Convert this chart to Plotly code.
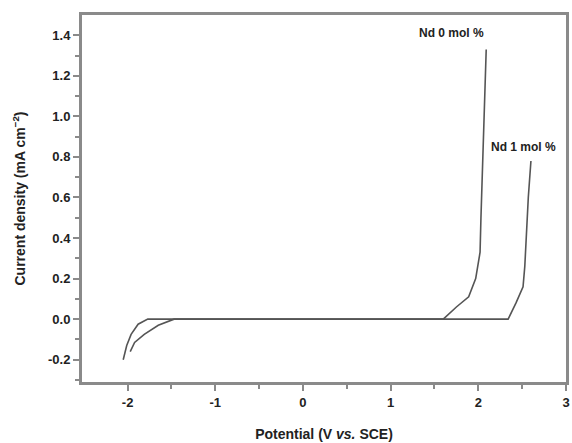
import plotly.graph_objects as go

# Nd 0 mol %
nd0_x = [-2.05, -2.01, -1.96, -1.88, -1.77, -1.5, 0.0, 1.0, 1.6, 1.75, 1.89, 1.97, 2.02, 2.03, 2.05, 2.06, 2.08, 2.09]
nd0_y = [-0.20, -0.13, -0.075, -0.025, 0.0, 0.0, 0.0, 0.0, 0.0, 0.06, 0.11, 0.20, 0.33, 0.50, 0.80, 1.00, 1.20, 1.33]
# Nd 1 mol %
nd1_x = [-1.97, -1.92, -1.81, -1.65, -1.47, 0.0, 1.0, 2.0, 2.34, 2.43, 2.51, 2.53, 2.55, 2.57, 2.60]
nd1_y = [-0.16, -0.115, -0.075, -0.03, 0.0, 0.0, 0.0, 0.0, 0.0, 0.08, 0.16, 0.26, 0.45, 0.60, 0.78]

x_ticks = [-2, -1, 0, 1, 2, 3]
x_ticklabels = ["-2", "-1", "0", "1", "2", "3"]
y_ticks = [-0.2, 0.0, 0.2, 0.4, 0.6, 0.8, 1.0, 1.2, 1.4]
y_ticklabels = ["-0.2", "0.0", "0.2", "0.4", "0.6", "0.8", "1.0", "1.2", "1.4"]

line_color = "#555555"
axis_color = "#8a8a8a"
font_fam = "Liberation Sans, Arial, sans-serif"

fig = go.Figure()
fig.add_trace(go.Scatter(x=nd0_x, y=nd0_y, mode="lines", name="Nd 0 mol %",
                         line=dict(color=line_color, width=1.6)))
fig.add_trace(go.Scatter(x=nd1_x, y=nd1_y, mode="lines", name="Nd 1 mol %",
                         line=dict(color=line_color, width=1.6)))

fig.add_annotation(x=1.69, y=1.41, text="<b>Nd 0 mol %</b>", showarrow=False,
                   font=dict(family=font_fam, size=12, color="#222"), bgcolor="white")
fig.add_annotation(x=2.51, y=0.85, text="<b>Nd 1 mol %</b>", showarrow=False,
                   font=dict(family=font_fam, size=12, color="#222"), bgcolor="white")

fig.update_layout(
    width=572, height=443,
    margin=dict(l=82, r=3, t=15, b=60),
    paper_bgcolor="white", plot_bgcolor="white",
    showlegend=False,
    font=dict(family=font_fam, color="#222"),
)
fig.update_xaxes(
    range=[-2.52, 3.0], tickvals=x_ticks, ticktext=x_ticklabels,
    showgrid=False, zeroline=False,
    showline=True, linecolor=axis_color, linewidth=3, mirror=True,
    ticks="outside", ticklen=6, tickwidth=2, tickcolor=axis_color,
    tickfont=dict(size=13, weight="bold", family=font_fam, color="#222"),
    minor=dict(tickvals=[-1.5, -0.5, 0.5, 1.5, 2.5], ticks="outside", ticklen=4, tickwidth=2, tickcolor=axis_color),
    title=dict(text="<b>Potential (V <i>vs.</i> SCE)</b>", font=dict(size=14, family=font_fam, color="#222"), standoff=21),
)
fig.update_yaxes(
    range=[-0.31, 1.50], tickvals=y_ticks, ticktext=y_ticklabels,
    showgrid=False, zeroline=False,
    showline=True, linecolor=axis_color, linewidth=3, mirror=True,
    ticks="outside", ticklen=6, tickwidth=2, tickcolor=axis_color,
    tickfont=dict(size=13, weight="bold", family=font_fam, color="#222"),
    minor=dict(tickvals=[-0.3, -0.1, 0.1, 0.3, 0.5, 0.7, 0.9, 1.1, 1.3], ticks="outside", ticklen=4, tickwidth=2, tickcolor=axis_color),
    title=dict(text="<b>Current density (mA cm<sup>−2</sup>)</b>", font=dict(size=14, family=font_fam, color="#222"), standoff=20),
)

fig.write_html("out.html", config={"displayModeBar": False},
               post_script="document.body.style.margin='0';document.body.style.overflow='hidden';")
